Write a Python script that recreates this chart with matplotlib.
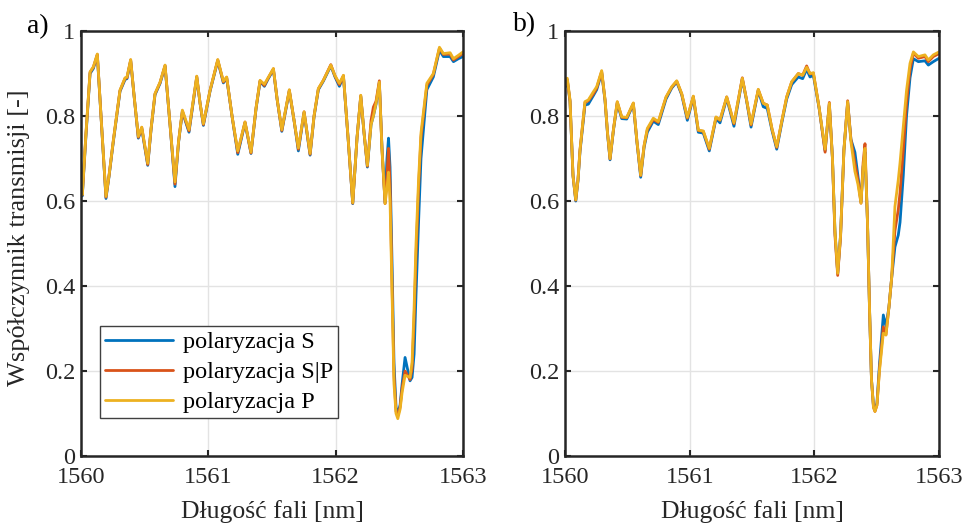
import matplotlib
matplotlib.use("Agg")
import matplotlib.pyplot as plt

plt.rcParams['font.family'] = ['Liberation Serif', 'DejaVu Serif']
plt.rcParams['font.size'] = 17

# --- panel a) ---
wl_a = [1560.000, 1560.010, 1560.039, 1560.071, 1560.097, 1560.128, 1560.157, 1560.196,
        1560.220, 1560.254, 1560.306, 1560.346, 1560.361, 1560.390, 1560.416, 1560.450,
        1560.477, 1560.524, 1560.550, 1560.581, 1560.621, 1560.660, 1560.699, 1560.738,
        1560.766, 1560.796, 1560.848, 1560.909, 1560.935, 1560.961, 1561.013, 1561.074,
        1561.118, 1561.144, 1561.186, 1561.231, 1561.288, 1561.335, 1561.375, 1561.406,
        1561.440, 1561.469, 1561.511, 1561.540, 1561.577, 1561.636, 1561.673, 1561.707,
        1561.752, 1561.799, 1561.830, 1561.864, 1561.903, 1561.962, 1561.995, 1562.029,
        1562.061, 1562.097, 1562.134, 1562.168, 1562.197, 1562.223, 1562.249, 1562.278,
        1562.296, 1562.317, 1562.343, 1562.364, 1562.388, 1562.403, 1562.415, 1562.427,
        1562.443, 1562.458, 1562.474, 1562.488, 1562.506, 1562.522, 1562.545, 1562.584,
        1562.600, 1562.616, 1562.631, 1562.651, 1562.670, 1562.716, 1562.767, 1562.815,
        1562.846, 1562.899, 1562.925, 1562.964, 1563.000]

s_a = [0.628, 0.612, 0.755, 0.900, 0.912, 0.943, 0.800, 0.606, 0.658, 0.740, 0.858, 0.886,
       0.888, 0.930, 0.850, 0.748, 0.770, 0.684, 0.768, 0.850, 0.877, 0.917, 0.780, 0.634,
       0.738, 0.810, 0.762, 0.891, 0.830, 0.778, 0.858, 0.930, 0.878, 0.889, 0.800, 0.710,
       0.784, 0.712, 0.818, 0.881, 0.870, 0.887, 0.909, 0.840, 0.764, 0.859, 0.790, 0.718,
       0.808, 0.708, 0.798, 0.862, 0.882, 0.918, 0.892, 0.870, 0.893, 0.750, 0.594, 0.750,
       0.846, 0.760, 0.680, 0.780, 0.800, 0.828, 0.878, 0.725, 0.596, 0.700, 0.748, 0.680,
       0.450, 0.220, 0.115, 0.100, 0.120, 0.170, 0.232, 0.177, 0.185, 0.240, 0.380, 0.550,
       0.700, 0.862, 0.892, 0.955, 0.940, 0.940, 0.928, 0.935, 0.940]

sp_a = [0.630, 0.614, 0.760, 0.903, 0.915, 0.945, 0.800, 0.609, 0.660, 0.743, 0.860, 0.889,
        0.890, 0.932, 0.850, 0.750, 0.773, 0.686, 0.770, 0.852, 0.879, 0.919, 0.780, 0.640,
        0.740, 0.812, 0.765, 0.893, 0.830, 0.780, 0.860, 0.932, 0.880, 0.891, 0.800, 0.714,
        0.786, 0.713, 0.820, 0.883, 0.872, 0.889, 0.911, 0.840, 0.766, 0.861, 0.790, 0.722,
        0.810, 0.710, 0.800, 0.864, 0.884, 0.921, 0.894, 0.874, 0.895, 0.750, 0.595, 0.750,
        0.848, 0.760, 0.682, 0.790, 0.821, 0.835, 0.883, 0.720, 0.594, 0.660, 0.724, 0.640,
        0.400, 0.190, 0.105, 0.095, 0.115, 0.160, 0.200, 0.180, 0.205, 0.320, 0.470, 0.630,
        0.750, 0.872, 0.898, 0.960, 0.945, 0.946, 0.932, 0.940, 0.948]

p_a = [0.630, 0.615, 0.760, 0.904, 0.916, 0.946, 0.800, 0.611, 0.660, 0.743, 0.861, 0.890,
       0.892, 0.933, 0.850, 0.752, 0.774, 0.689, 0.770, 0.853, 0.880, 0.920, 0.780, 0.645,
       0.740, 0.814, 0.768, 0.894, 0.830, 0.782, 0.860, 0.933, 0.882, 0.892, 0.800, 0.718,
       0.786, 0.715, 0.820, 0.884, 0.875, 0.890, 0.912, 0.840, 0.768, 0.862, 0.790, 0.725,
       0.810, 0.712, 0.800, 0.865, 0.884, 0.920, 0.895, 0.877, 0.896, 0.750, 0.596, 0.750,
       0.849, 0.760, 0.684, 0.780, 0.800, 0.830, 0.880, 0.720, 0.594, 0.630, 0.668, 0.600,
       0.380, 0.170, 0.100, 0.088, 0.110, 0.150, 0.190, 0.185, 0.220, 0.350, 0.500, 0.650,
       0.760, 0.877, 0.900, 0.962, 0.947, 0.949, 0.935, 0.943, 0.951]

# --- panel b) ---
wl_b = [1560.000, 1560.018, 1560.040, 1560.064, 1560.086, 1560.104, 1560.120, 1560.160,
        1560.187, 1560.227, 1560.254, 1560.294, 1560.321, 1560.341, 1560.361, 1560.389,
        1560.419, 1560.455, 1560.495, 1560.548, 1560.577, 1560.607, 1560.634, 1560.660,
        1560.708, 1560.748, 1560.810, 1560.856, 1560.896, 1560.936, 1560.981, 1561.029,
        1561.069, 1561.109, 1561.157, 1561.211, 1561.243, 1561.297, 1561.355, 1561.422,
        1561.455, 1561.492, 1561.550, 1561.590, 1561.622, 1561.660, 1561.698, 1561.740,
        1561.778, 1561.818, 1561.871, 1561.906, 1561.938, 1561.965, 1561.992, 1562.038,
        1562.086, 1562.120, 1562.145, 1562.165, 1562.187, 1562.210, 1562.237, 1562.267,
        1562.293, 1562.325, 1562.349, 1562.374, 1562.391, 1562.406, 1562.426, 1562.442,
        1562.458, 1562.474, 1562.486, 1562.502, 1562.522, 1562.553, 1562.574, 1562.598,
        1562.620, 1562.646, 1562.673, 1562.687, 1562.713, 1562.739, 1562.767, 1562.794,
        1562.834, 1562.887, 1562.914, 1562.954, 1563.000]

s_b = [0.868, 0.884, 0.834, 0.660, 0.600, 0.648, 0.716, 0.826, 0.828, 0.848, 0.862, 0.902,
       0.836, 0.758, 0.697, 0.768, 0.830, 0.794, 0.793, 0.828, 0.738, 0.656, 0.726, 0.762,
       0.788, 0.780, 0.840, 0.866, 0.880, 0.850, 0.790, 0.844, 0.762, 0.760, 0.718, 0.794,
       0.784, 0.842, 0.776, 0.887, 0.838, 0.774, 0.860, 0.822, 0.818, 0.766, 0.722, 0.786,
       0.840, 0.874, 0.892, 0.888, 0.910, 0.892, 0.896, 0.818, 0.718, 0.828, 0.700, 0.530,
       0.430, 0.520, 0.720, 0.832, 0.745, 0.715, 0.660, 0.598, 0.680, 0.715, 0.550, 0.350,
       0.180, 0.118, 0.108, 0.125, 0.215, 0.332, 0.305, 0.350, 0.420, 0.492, 0.520, 0.550,
       0.660, 0.800, 0.890, 0.935, 0.928, 0.930, 0.920, 0.928, 0.936]

sp_b = [0.870, 0.886, 0.836, 0.660, 0.602, 0.650, 0.720, 0.832, 0.836, 0.852, 0.866, 0.905,
        0.838, 0.760, 0.699, 0.770, 0.833, 0.797, 0.796, 0.830, 0.740, 0.660, 0.730, 0.768,
        0.792, 0.785, 0.844, 0.868, 0.882, 0.852, 0.795, 0.846, 0.766, 0.764, 0.722, 0.797,
        0.790, 0.845, 0.782, 0.890, 0.840, 0.779, 0.862, 0.830, 0.826, 0.770, 0.726, 0.790,
        0.845, 0.880, 0.900, 0.896, 0.918, 0.899, 0.901, 0.820, 0.715, 0.832, 0.700, 0.520,
        0.425, 0.515, 0.720, 0.836, 0.745, 0.690, 0.650, 0.595, 0.690, 0.735, 0.550, 0.350,
        0.180, 0.115, 0.105, 0.120, 0.205, 0.304, 0.285, 0.350, 0.420, 0.530, 0.580, 0.620,
        0.720, 0.830, 0.910, 0.948, 0.936, 0.940, 0.928, 0.940, 0.947]

p_b = [0.872, 0.889, 0.838, 0.660, 0.603, 0.650, 0.720, 0.834, 0.838, 0.857, 0.869, 0.907,
       0.838, 0.760, 0.700, 0.770, 0.834, 0.798, 0.797, 0.831, 0.740, 0.661, 0.730, 0.771,
       0.795, 0.787, 0.845, 0.869, 0.883, 0.853, 0.797, 0.847, 0.767, 0.765, 0.724, 0.798,
       0.791, 0.845, 0.784, 0.889, 0.840, 0.781, 0.863, 0.830, 0.826, 0.770, 0.728, 0.790,
       0.845, 0.881, 0.900, 0.896, 0.915, 0.900, 0.902, 0.820, 0.722, 0.830, 0.700, 0.530,
       0.430, 0.520, 0.720, 0.834, 0.740, 0.670, 0.640, 0.595, 0.680, 0.724, 0.550, 0.350,
       0.180, 0.115, 0.105, 0.120, 0.200, 0.289, 0.285, 0.350, 0.420, 0.587, 0.650, 0.690,
       0.775, 0.860, 0.924, 0.951, 0.940, 0.944, 0.932, 0.944, 0.951]

labels = ['polaryzacja S', 'polaryzacja S|P', 'polaryzacja P']
colors = ['#0072BD', '#D95319', '#EDB120']
xticks = [1560, 1561, 1562, 1563]
yticks = [0, 0.2, 0.4, 0.6, 0.8, 1]
ytick_labels = ['0', '0.2', '0.4', '0.6', '0.8', '1']

fig = plt.figure(figsize=(9.68, 5.23), dpi=100)
ax_a = fig.add_axes([0.0837, 0.128, 0.3946, 0.8126])
ax_b = fig.add_axes([0.5837, 0.128, 0.3864, 0.8126])

for ax, wl, series in [(ax_a, wl_a, (s_a, sp_a, p_a)), (ax_b, wl_b, (s_b, sp_b, p_b))]:
    for vals, c, lab in zip(series, colors, labels):
        ax.plot(wl, vals, color=c, linewidth=2.0, label=lab,
                solid_joinstyle='round', solid_capstyle='round')
    ax.set_xlim(1560, 1563)
    ax.set_ylim(0, 1)
    ax.set_xticks(xticks)
    ax.set_yticks(yticks)
    ax.set_yticklabels(ytick_labels)
    ax.grid(True, color='#e3e3e3', linewidth=1.0)
    ax.set_axisbelow(True)
    ax.tick_params(direction='in', top=True, right=True, length=4, width=1.5,
                   colors='#262626', labelsize=17.5)
    ax.tick_params(axis='x', pad=8)
    ax.tick_params(axis='y', pad=4)
    for sp in ax.spines.values():
        sp.set_linewidth(1.8)
        sp.set_color('#262626')

fig.text(19 / 968, 1 - 237.5 / 523, 'Współczynnik transmisji [-]', rotation=90,
         ha='center', va='center', fontsize=19, color='#262626')
fig.text(0.281, 1 - 512 / 523, 'Długość fali [nm]', ha='center', va='center',
         fontsize=18.5, color='#262626')
fig.text(0.777, 1 - 512 / 523, 'Długość fali [nm]', ha='center', va='center',
         fontsize=18.5, color='#262626')
fig.text(38 / 968, 1 - 27 / 523, 'a)', ha='center', va='center', fontsize=20)
fig.text(525 / 968, 1 - 25 / 523, 'b)', ha='center', va='center', fontsize=20)

leg = ax_a.legend(loc='lower left', bbox_to_anchor=(0.05, 0.089), fontsize=17.5,
                  handlelength=2.8, labelspacing=0.33, borderpad=0.2,
                  handletextpad=0.4, borderaxespad=0, fancybox=False, framealpha=1)
leg.get_frame().set_edgecolor('#404040')
leg.get_frame().set_linewidth(1.0)

fig.savefig('out.png', dpi=100)
